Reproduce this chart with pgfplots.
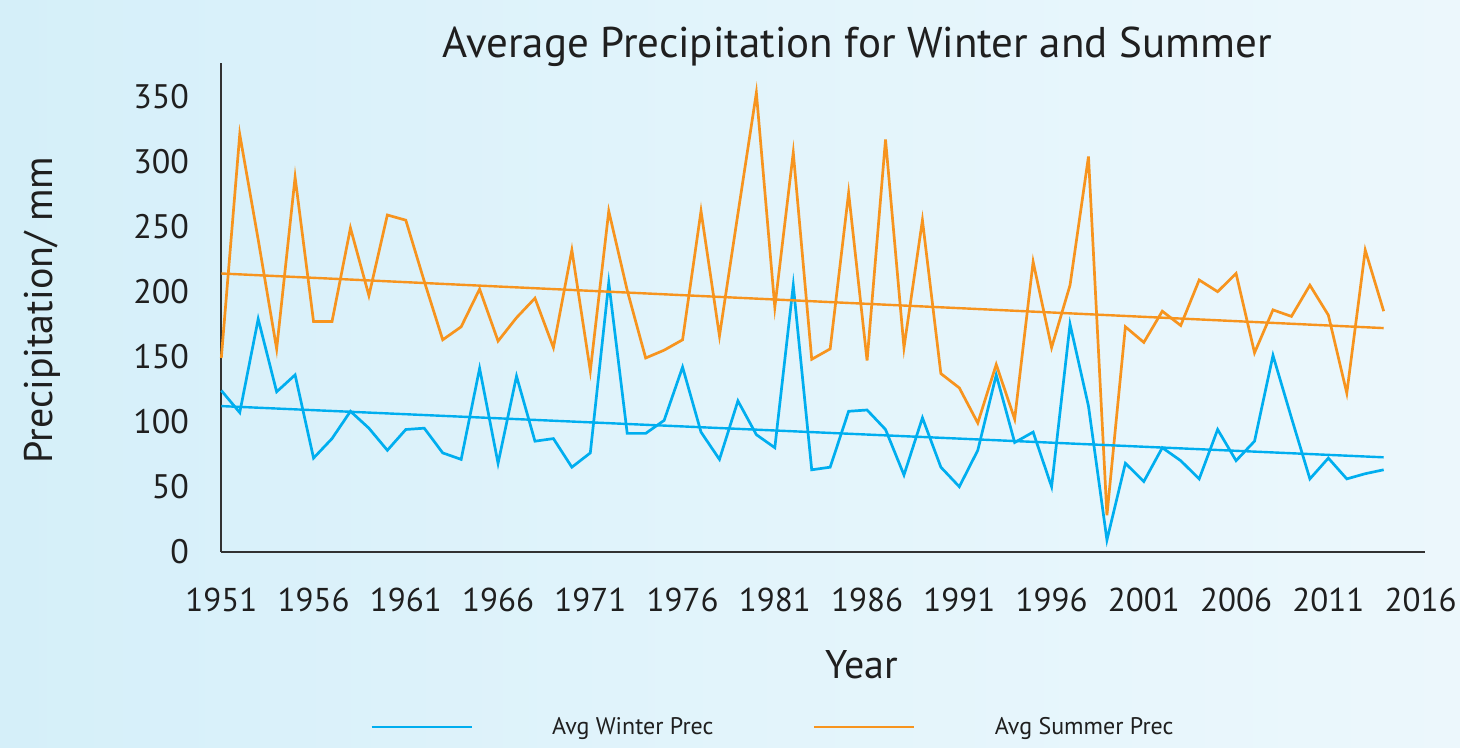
\documentclass[border=0pt]{standalone}
\usepackage{pgfplots}
\pgfplotsset{compat=1.18}
\usepackage{fontspec}
\setmainfont{PT Sans}
\definecolor{cOrange}{RGB}{247,148,30}
\definecolor{cBlue}{RGB}{0,174,239}
\definecolor{cAxis}{RGB}{50,50,50}
\definecolor{bgA}{RGB}{204,236,248}
\definecolor{bgB}{RGB}{226,244,251}
\definecolor{bgC}{RGB}{246,251,254}
\pgfdeclarehorizontalshading{bgshade}{100bp}{color(0bp)=(bgA); color(25bp)=(bgA!60!bgB); color(50bp)=(bgB); color(100bp)=(bgC)}

\pgfplotstableread{
year val
1951 124
1952 107
1953 179
1954 123
1955 136
1956 72
1957 87
1958 108
1959 95
1960 78
1961 94
1962 95
1963 76
1964 71
1965 141
1966 68
1967 135
1968 85
1969 87
1970 65
1971 76
1972 207
1973 91
1974 91
1975 101
1976 142
1977 92
1978 71
1979 116
1980 90
1981 80
1982 205
1983 63
1984 65
1985 108
1986 109
1987 94
1988 59
1989 103
1990 65
1991 50
1992 78
1993 136
1994 84
1995 92
1996 50
1997 175
1998 112
1999 9
2000 68
2001 54
2002 80
2003 70
2004 56
2005 94
2006 70
2007 85
2008 151
2009 103
2010 56
2011 72
2012 56
2013 60
2014 63
}\winter

\pgfplotstableread{
year val
1951 149
1952 321
1953 240
1954 156
1955 288
1956 177
1957 177
1958 249
1959 197
1960 259
1961 255
1962 208
1963 163
1964 173
1965 202
1966 162
1967 180
1968 195
1969 157
1970 232
1971 139
1972 262
1973 201
1974 149
1975 155
1976 163
1977 262
1978 166
1979 260
1980 353
1981 188
1982 307
1983 148
1984 156
1985 276
1986 147
1987 317
1988 157
1989 255
1990 137
1991 126
1992 99
1993 144
1994 102
1995 223
1996 157
1997 205
1998 304
1999 28
2000 173
2001 161
2002 185
2003 174
2004 209
2005 200
2006 214
2007 153
2008 186
2009 181
2010 205
2011 182
2012 122
2013 232
2014 185
}\summer

\begin{document}
\begin{tikzpicture}
\shade[shading=bgshade] (0pt,0pt) rectangle (730pt,374pt);
\node[anchor=base, font=\fontsize{21.5}{24}\selectfont, text=black!88] at (428.5pt,345pt) {Average Precipitation for Winter and Summer};
\node[anchor=base, font=\fontsize{20}{24}\selectfont, text=black!88] at (431pt,34.5pt) {Year};
\node[anchor=base, rotate=90, font=\fontsize{20}{24}\selectfont, text=black!88] at (26pt,219pt) {Precipitation/ mm};
\begin{axis}[
  at={(110.65pt,98.15pt)}, anchor=south west,
  scale only axis, width=601.85pt, height=244.2pt,
  xmin=1951, xmax=2016.24, ymin=0, ymax=375.7,
  axis x line*=bottom, axis y line*=left,
  axis line style={-, cAxis, line width=1pt},
  xtick={1951,1956,...,2016}, ytick={0,50,...,350},
  major tick length=0pt,
  /pgf/number format/assume math mode=true,
  /pgf/number format/1000 sep={},
  xticklabel style={inner sep=0pt, anchor=north, yshift=-18pt, font=\fontsize{16.5}{18}\selectfont, text=black!88},
  yticklabel style={inner sep=0pt, anchor=east, xshift=-16pt, font=\fontsize{17}{18}\selectfont, text=black!88},
  legend columns=2,
  legend style={at={(0.1235,-0.359)}, anchor=west, draw=none, fill=none, inner sep=0pt,
    font=\fontsize{12}{14}\selectfont, text=black!88,
    /tikz/every odd column/.append style={column sep=37.5pt},
    /tikz/every even column/.append style={column sep=38pt}},
  legend image code/.code={\draw[#1] (0pt,0pt) -- (50pt,0pt);},
  clip=false,
]
\addplot[cBlue, line width=1.35pt, mark=none] table[x=year, y=val] {\winter};
\addlegendentry{\makebox[90.5pt][l]{Avg Winter Prec}}
\addplot[cOrange, line width=1.35pt, mark=none] table[x=year, y=val] {\summer};
\addlegendentry{\makebox[90.5pt][l]{Avg Summer Prec}}
\addplot[cOrange, line width=1.2pt, mark=none, forget plot] coordinates {(1951,214) (2014,172)};
\addplot[cBlue, line width=1.2pt, mark=none, forget plot] coordinates {(1951,112) (2014,72.6)};
\end{axis}
\end{tikzpicture}
\end{document}
